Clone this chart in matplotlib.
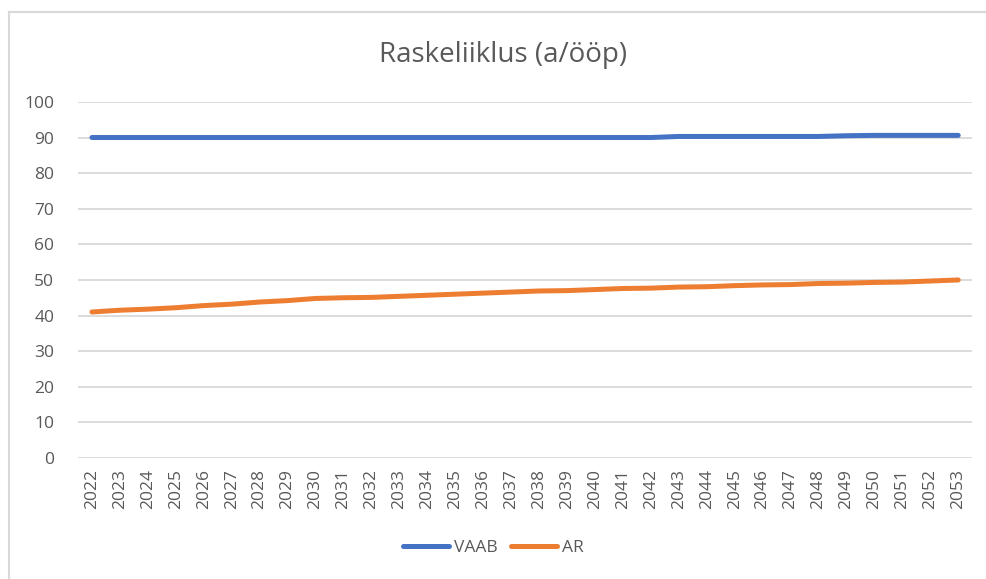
import matplotlib
matplotlib.use('Agg')
import matplotlib.pyplot as plt
from matplotlib.lines import Line2D

plt.rcParams['font.family'] = ['Open Sans', 'DejaVu Sans']

years = [str(y) for y in range(2022, 2054)]
vaab = [90.0, 90.0, 90.0, 90.0, 90.0, 90.0, 90.0, 90.0, 90.0, 90.0, 90.0,
        90.0, 90.0, 90.0, 90.0, 90.0, 90.0, 90.0, 90.0, 90.0, 90.0,
        90.3, 90.3, 90.3, 90.3, 90.3, 90.3, 90.5, 90.6, 90.6, 90.6, 90.6]
ar = [41.0, 41.5, 41.8, 42.2, 42.8, 43.2, 43.8, 44.2, 44.8, 45.0, 45.1,
      45.4, 45.7, 46.0, 46.3, 46.6, 46.9, 47.0, 47.3, 47.6, 47.7,
      48.0, 48.1, 48.4, 48.6, 48.7, 49.0, 49.1, 49.3, 49.4, 49.7, 50.0]
series_names = ['VAAB', 'AR']
colors = ['#4472C4', '#ED7D31']
text_color = '#595959'
grid_color = '#d9d9d9'

fig = plt.figure(figsize=(9.87, 5.79), dpi=100)
ax = fig.add_axes([0.079, 0.209, 0.906, 0.615])

x = list(range(len(years)))
for vals, name, c in zip([vaab, ar], series_names, colors):
    ax.plot(x, vals, color=c, linewidth=3.6, solid_capstyle='round', label=name, zorder=3)

ax.set_xlim(-0.5, len(years) - 0.5)
ax.set_ylim(0, 100)
ax.set_yticks(range(0, 101, 10))
ax.set_xticks(x)
ax.set_xticklabels(years, rotation=90)
ax.yaxis.grid(True, color=grid_color, linewidth=1.3)
ax.set_axisbelow(True)
for s in ax.spines.values():
    s.set_visible(False)
ax.tick_params(axis='both', length=0, colors=text_color, labelsize=12.5)
ax.tick_params(axis='y', pad=17)
ax.tick_params(axis='x', pad=8)

fig.text(0.51, 0.905, 'Raskeliiklus (a/ööp)', ha='center', va='center',
         fontsize=20, color=text_color)

handles = [Line2D([0], [0], color=c, linewidth=3.6, solid_capstyle='round') for c in colors]
fig.legend(handles, series_names, loc='center', bbox_to_anchor=(0.50, 0.053), ncol=2,
           frameon=False, fontsize=12.5, labelcolor=text_color, handlelength=2.6,
           handletextpad=0.3, columnspacing=0.8)

# chart area border (top and left edges visible)
fig.add_artist(Line2D([9 / 987, 1], [1 - 12 / 579, 1 - 12 / 579], color=grid_color, linewidth=1.5))
fig.add_artist(Line2D([9 / 987, 9 / 987], [0, 1 - 12 / 579], color=grid_color, linewidth=1.5))

fig.savefig('out.png', dpi=100)
